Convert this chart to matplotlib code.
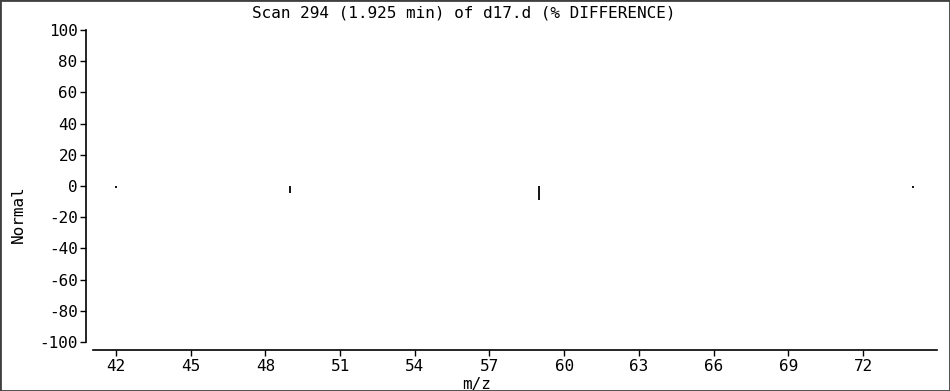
import matplotlib
matplotlib.use('Agg')
from matplotlib import pyplot as plt
from matplotlib.patches import Rectangle

# peaks of the difference spectrum
mz = [42, 49, 59, 74]
diff = [-1.5, -4.5, -9, -1.5]
xticks = [42, 45, 48, 51, 54, 57, 60, 63, 66, 69, 72]
yticks = [-100, -80, -60, -40, -20, 0, 20, 40, 60, 80, 100]
title = 'Scan 294 (1.925 min) of d17.d (% DIFFERENCE)'

plt.rcParams['font.family'] = 'DejaVu Sans Mono'
fs = 11.5

W, H = 950, 391
fig = plt.figure(figsize=(W / 100, H / 100), dpi=100)
ax = fig.add_axes([93 / W, 1 - 342 / H, 844 / W, 312 / H])

ax.vlines(mz, 0, diff, colors='black', linewidth=1.3)

ax.set_xlim(41.08, 74.97)
ax.set_ylim(-100, 100)
ax.set_xticks(xticks)
ax.set_yticks(yticks)
ax.set_yticklabels([str(v) for v in yticks])

for s in ['top', 'right']:
    ax.spines[s].set_visible(False)
ax.spines['left'].set_position(('outward', 5))
ax.spines['bottom'].set_position(('outward', 6))
ax.spines['left'].set_linewidth(1.2)
ax.spines['bottom'].set_linewidth(1.2)
ax.tick_params(direction='out', length=4, width=1, labelsize=fs, pad=2)

fig.text(464 / W, 1 - 13 / H, title, ha='center', va='center', fontsize=fs)
fig.text(477 / W, 1 - 384 / H, 'm/z', ha='center', va='center', fontsize=fs)
fig.text(18 / W, 1 - 214 / H, 'Normal', ha='center', va='center',
         rotation=90, fontsize=fs)

fig.patches.append(Rectangle((0, 0), 1, 1, transform=fig.transFigure,
                             fill=False, edgecolor='#404040', linewidth=2))

fig.savefig('out.png', dpi=100)
